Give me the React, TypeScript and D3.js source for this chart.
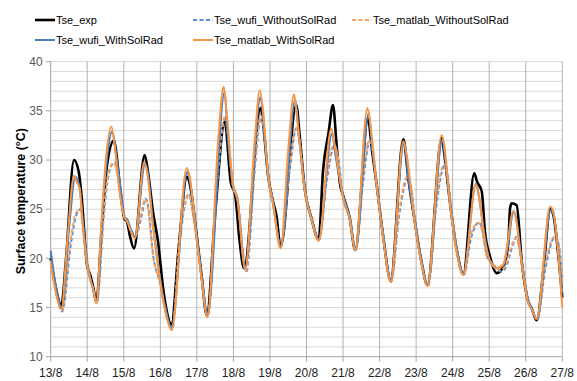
import React from "react";
import * as d3 from "d3";

type Pt = [number, number]; // [hours since 13/8 00:00, °C]

const dayLabels = ["13/8", "14/8", "15/8", "16/8", "17/8", "18/8", "19/8", "20/8", "21/8", "22/8", "23/8", "24/8", "25/8", "26/8", "27/8"];
const yTicks = [10, 15, 20, 25, 30, 35, 40];

const tseExp: Pt[] = [
  [0, 20.0], [3, 17.3], [7, 15.2], [10, 19.8], [15.3, 30.0], [18.4, 28.8], [20.1, 26.6], [24, 19.2], [26, 18.3], [28, 17.0], [30, 15.6],
  [33.5, 23.0], [37, 29.5], [41.6, 32.0], [43, 30.8], [46, 26.5], [48.5, 24.0], [50, 23.8], [52, 22.3], [54.7, 21.0],
  [61.7, 30.5], [63.9, 28.8], [67.2, 24.7], [70.5, 21.7], [73.8, 17.0], [76, 14.8], [79.3, 13.3],
  [84, 21.0], [89.5, 28.3], [91, 27.8], [96, 22.2], [99.2, 18.1], [102.5, 14.2],
  [108, 24.5], [114.3, 33.9], [118.2, 27.8], [121.2, 26.4], [124.1, 21.7], [127, 19.0],
  [137.9, 35.3], [140, 33.0], [142.7, 28.5], [146, 25.8], [148.2, 24.4], [151, 21.2],
  [161.3, 35.6], [163.5, 32.5], [166.8, 27.1], [171.2, 24.1], [176, 21.9],
  [178.9, 29.0], [182.5, 32.8], [185.4, 35.6], [187.6, 31.9], [189.8, 27.8], [192, 26.4], [196.4, 24.1], [200, 20.85],
  [208.4, 34.2], [211, 31.0], [214, 27.6], [218.4, 22.2], [223.3, 17.8],
  [231.6, 32.1], [235, 28.0], [239.3, 23.6], [243.7, 19.5], [247.4, 17.3],
  [256.8, 32.2], [259, 30.0], [262.3, 25.6], [266.7, 20.85], [271, 18.4],
  [278.2, 28.65], [280, 27.8], [283.1, 26.8], [285.2, 22.7], [288.3, 20.3], [292.9, 18.5], [297.3, 19.15],
  [300.6, 21.7], [301.7, 25.1], [302.8, 25.6], [306, 25.4], [309.4, 19.65], [313.7, 15.6], [315.9, 14.9], [319.2, 13.7],
  [324, 19.5], [328, 25.0], [330, 24.5], [333.4, 20.3], [336, 16.0],
];

const wufiWithout: Pt[] = [
  [0, 20.5], [3, 17.2], [7.5, 14.6], [13.5, 21.7], [16.8, 24.4], [19.7, 25.0], [22.3, 21.7], [24.5, 19.3], [26.3, 17.8], [28, 16.9], [30.3, 15.5],
  [35, 24.5], [38, 28.5], [42, 29.8], [44, 28.5], [46.5, 26.5], [48.6, 24.2], [50.2, 23.8], [52.5, 23.0], [55.5, 22.3],
  [60, 24.5], [62.1, 26.1], [64, 25.3], [67.4, 20.2], [71.8, 17.5], [75, 15.0], [79.8, 12.8],
  [85, 22.0], [91, 26.6], [93, 25.0], [96, 21.8], [99.2, 17.9], [103.2, 14.2],
  [109, 27.0], [114.9, 34.4], [116.5, 32.5], [119.7, 27.3], [122.6, 26.0], [128.5, 18.6],
  [134, 29.0], [138.3, 34.4], [140.5, 32.5], [143, 28.2], [146, 25.6], [151.2, 21.3],
  [157, 29.0], [161.3, 33.2], [163.5, 32.0], [166.8, 27.0], [171.2, 24.0], [176.3, 21.9],
  [181, 27.5], [186.5, 31.5], [188.5, 30.5], [192, 26.2], [196.4, 24.0], [200.3, 20.85],
  [205, 27.5], [209.5, 31.9], [211.5, 31.0], [214.5, 27.2], [218.4, 22.2], [223.6, 17.6],
  [229, 24.5], [234.9, 28.3], [236.5, 27.5], [239.5, 23.5], [243.7, 19.5], [248, 17.2],
  [253, 25.0], [259, 29.5], [260.5, 28.5], [263, 25.2], [266.7, 20.8], [271.3, 18.3],
  [276, 22.0], [281.5, 23.7], [283, 23.2], [286.4, 20.3], [290, 19.5], [296, 18.65], [299.5, 19.3],
  [302.8, 21.0], [306, 22.2], [308, 21.0], [310.4, 18.6], [313.7, 15.8], [316, 14.9], [319.5, 13.8],
  [325, 19.0], [331.2, 22.2], [332.5, 22.0], [334.5, 20.5], [336, 18.0],
];

const matlabWithout: Pt[] = [
  [0, 19.8], [3, 17.0], [7.3, 14.7], [13, 21.8], [16.5, 24.6], [19.3, 25.0], [22, 21.8], [24.3, 19.3], [26.3, 17.7], [28, 16.8], [30, 15.4],
  [35, 25.0], [38, 28.8], [41.5, 29.7], [43.5, 28.7], [46.5, 26.4], [48.6, 24.1], [50.2, 23.8], [52.5, 22.9], [55.3, 22.2],
  [60, 25.0], [61.8, 26.0], [63.5, 25.4], [67.2, 20.3], [71.8, 17.4], [75, 14.9], [79.6, 12.7],
  [85, 22.5], [90.5, 26.5], [92.5, 25.3], [96, 21.7], [99.2, 17.8], [103, 14.1],
  [109, 27.5], [114.5, 34.5], [116, 33.0], [119.7, 27.3], [122.6, 26.0], [128.2, 18.7],
  [134, 29.5], [138, 34.5], [140, 33.0], [143, 28.2], [146, 25.5], [151, 21.2],
  [157, 29.5], [161, 33.3], [163, 32.2], [166.8, 27.0], [171.2, 24.0], [176.2, 21.8],
  [181, 28.0], [186, 31.6], [188, 30.8], [192, 26.2], [196.4, 24.0], [200.2, 20.8],
  [205, 28.0], [209, 32.0], [211, 31.2], [214.5, 27.2], [218.4, 22.1], [223.5, 17.6],
  [229, 25.0], [234.5, 28.4], [236.2, 27.6], [239.5, 23.4], [243.7, 19.4], [247.8, 17.2],
  [253, 25.5], [258.5, 29.6], [260.2, 28.6], [263, 25.2], [266.7, 20.7], [271.2, 18.3],
  [276, 22.5], [281, 23.6], [283, 23.0], [286.4, 20.2], [290, 19.5], [295.5, 18.8], [299, 19.4],
  [302.5, 21.2], [305.5, 22.1], [307.5, 21.2], [310.2, 18.8], [313.7, 15.7], [316, 14.8], [319.4, 13.8],
  [325, 19.5], [330.8, 22.2], [332.3, 22.0], [334.5, 20.3], [336, 17.5],
];

const wufiWith: Pt[] = [
  [0, 20.8], [3, 17.5], [7.3, 14.9], [12, 23.0], [16.2, 28.3], [19, 27.2], [21, 24.0], [24, 19.3], [26.3, 17.7], [28, 16.8], [30, 15.6],
  [35, 27.0], [40.4, 32.9], [43, 30.5], [46, 27.0], [48.6, 24.1], [50.2, 24.0], [52.5, 23.0], [55.3, 22.2],
  [62, 29.6], [64, 28.5], [67, 23.8], [71.8, 18.0], [75, 15.2], [79.3, 13.0],
  [89.8, 28.8], [91.5, 27.8], [95.9, 22.2], [99.2, 18.1], [102.9, 14.2],
  [114.3, 36.95], [116, 33.0], [119.7, 27.5], [122.6, 26.1], [127.7, 19.0],
  [137.9, 36.4], [140, 33.5], [142.7, 28.5], [146, 25.8], [151, 21.2],
  [160.7, 36.1], [163, 32.5], [166.8, 27.1], [171.2, 24.1], [176, 21.9],
  [184.8, 32.7], [187, 30.5], [192, 26.4], [196.4, 24.1], [200, 20.85],
  [208.9, 34.75], [211, 31.5], [214, 27.6], [218.4, 22.2], [223.3, 17.8],
  [232, 31.8], [235, 28.0], [239.3, 23.6], [243.7, 19.5], [247.4, 17.3],
  [257.3, 32.1], [259, 30.2], [262.3, 25.6], [266.7, 20.85], [271, 18.4],
  [279.3, 27.6], [281, 26.5], [285.2, 22.0], [288.3, 19.8], [292.9, 19.0], [297.3, 19.3],
  [300, 21.0], [304, 24.8], [305.5, 24.2], [309.4, 19.65], [313.7, 15.6], [315.9, 14.9], [319.2, 13.8],
  [328.5, 24.9], [330.5, 24.3], [333.4, 20.6], [336, 16.5],
];

const matlabWith: Pt[] = [
  [0, 19.5], [3, 16.8], [7, 14.8], [11, 22.0], [15.3, 28.4], [17, 27.8], [19, 27.1], [21, 23.5], [24, 19.2], [26.3, 17.7], [28, 16.8], [30, 15.4],
  [33.3, 23.7], [36.5, 30.5], [39.8, 33.4], [42, 31.5], [45, 27.0], [48.6, 24.1], [50.2, 23.8], [52.5, 22.8], [55.3, 22.0],
  [61.4, 29.8], [63.5, 28.6], [67, 23.5], [71.8, 17.8], [75, 14.8], [79.5, 12.7],
  [89.3, 29.2], [91, 28.5], [95.9, 22.0], [99.2, 17.8], [102.9, 14.0],
  [110, 32.0], [113.6, 37.45], [115.5, 35.0], [119.7, 27.5], [122.6, 26.1], [127.7, 18.9],
  [134, 32.0], [137.3, 37.1], [139.5, 35.0], [142.7, 28.5], [146, 25.6], [151, 21.0],
  [156, 31.0], [159.8, 36.7], [162, 34.0], [166.8, 27.0], [171.2, 24.0], [176, 21.8],
  [184.3, 33.2], [186.5, 31.5], [192, 26.2], [196.4, 24.0], [200, 20.8],
  [208, 35.3], [210, 33.5], [214, 27.5], [218.4, 22.0], [223.3, 17.6],
  [231.6, 31.9], [233.5, 30.8], [239.3, 23.4], [243.7, 19.3], [247.4, 17.2],
  [256.8, 32.55], [258.5, 31.5], [262.3, 25.4], [266.7, 20.6], [271, 18.3],
  [279.3, 27.5], [281, 26.6], [285.2, 21.8], [288.3, 19.8], [292.9, 19.0], [297.3, 19.4],
  [300, 21.5], [303.4, 24.75], [305, 24.4], [309.4, 19.4], [313.7, 15.4], [315.9, 14.8], [319.2, 13.85],
  [328, 25.25], [330, 24.8], [333.4, 20.3], [336, 15.0],
];

const series = [
  { name: "Tse_exp", data: tseExp, color: "#000000", width: 2.6, dash: "" },
  { name: "Tse_wufi_WithoutSolRad", data: wufiWithout, color: "#5b8fd2", width: 2, dash: "4,2.5" },
  { name: "Tse_matlab_WithoutSolRad", data: matlabWithout, color: "#f4a261", width: 2, dash: "4,2.5" },
  { name: "Tse_wufi_WithSolRad", data: wufiWith, color: "#4a7ebb", width: 2, dash: "" },
  { name: "Tse_matlab_WithSolRad", data: matlabWith, color: "#f79646", width: 2, dash: "" },
];

// legend slots: [x, y] of the line start
const legendPos: Record<string, [number, number]> = {
  Tse_exp: [35, 20],
  Tse_wufi_WithoutSolRad: [193, 20],
  Tse_matlab_WithoutSolRad: [352, 20],
  Tse_wufi_WithSolRad: [35, 40],
  Tse_matlab_WithSolRad: [193, 40],
};

const W = 577;
const H = 381;
const left = 50.7, right = 562.3, top = 61.7, bottom = 356.7;

export default function App() {
  const x = d3.scaleLinear().domain([0, 336]).range([left, right]);
  const y = d3.scaleLinear().domain([10, 40]).range([bottom, top]);
  const line = d3
    .line<Pt>()
    .x((d) => x(d[0]))
    .y((d) => y(d[1]))
    .curve(d3.curveMonotoneX);

  const minor = d3.range(11, 41, 1);
  const font = "'Liberation Sans', Arial, sans-serif";

  return (
    <svg width={W} height={H} style={{ position: "absolute", left: 0, top: 0, background: "#fff" }} fontFamily={font}>
      {/* horizontal grid */}
      {minor.map((v) => (
        <line key={"h" + v} x1={left} x2={right} y1={y(v)} y2={y(v)} stroke="#d9d9d9" strokeWidth={1} />
      ))}
      {/* vertical grid per day */}
      {dayLabels.map((_, i) =>
        i === 0 ? null : (
          <line key={"v" + i} x1={x(i * 24)} x2={x(i * 24)} y1={top} y2={bottom} stroke="#b3b3b3" strokeWidth={1} />
        )
      )}
      {/* axes */}
      <line x1={left} x2={left} y1={top} y2={bottom} stroke="#a6a6a6" />
      <line x1={left} x2={right} y1={bottom} y2={bottom} stroke="#a6a6a6" />
      {yTicks.map((v) => (
        <g key={"yt" + v}>
          <line x1={left - 5} x2={left} y1={y(v)} y2={y(v)} stroke="#a6a6a6" />
          <text x={left - 8} y={y(v)} dy="0.35em" textAnchor="end" fontSize={12} fill="#595959">
            {v}
          </text>
        </g>
      ))}
      {dayLabels.map((d, i) => (
        <g key={"xt" + i}>
          <line x1={x(i * 24)} x2={x(i * 24)} y1={bottom} y2={bottom + 5} stroke="#a6a6a6" />
          <text x={x(i * 24)} y={bottom + 20} textAnchor="middle" fontSize={12} fill="#222">
            {d}
          </text>
        </g>
      ))}
      <text
        transform={`translate(20,${(top + bottom) / 2 - 8}) rotate(-90)`}
        textAnchor="middle"
        dy="0.35em"
        fontSize={13}
        fontWeight="bold"
        textLength={146}
        lengthAdjust="spacingAndGlyphs"
        fill="#000"
      >
        Surface temperature (°C)
      </text>

      {/* series */}
      {series.map((s) => (
        <path
          key={s.name}
          d={line(s.data) || ""}
          fill="none"
          stroke={s.color}
          strokeWidth={s.width}
          strokeDasharray={s.dash || undefined}
          strokeLinejoin="round"
        />
      ))}

      {/* legend */}
      {series.map((s) => {
        const [lx, ly] = legendPos[s.name];
        return (
          <g key={"lg" + s.name}>
            <line x1={lx} x2={lx + 20} y1={ly} y2={ly} stroke={s.color} strokeWidth={s.width} strokeDasharray={s.dash || undefined} />
            <text x={lx + 21} y={ly} dy="0.35em" fontSize={11} fill="#000">
              {s.name}
            </text>
          </g>
        );
      })}
    </svg>
  );
}
